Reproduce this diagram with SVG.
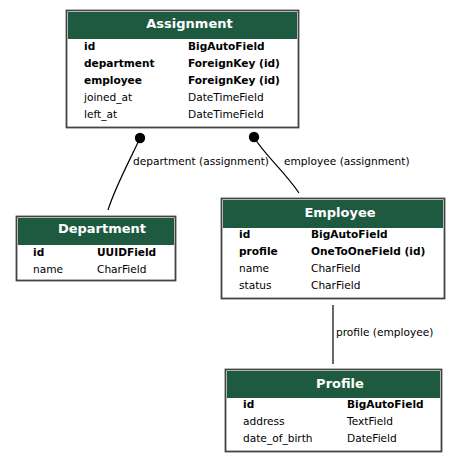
<svg xmlns="http://www.w3.org/2000/svg" width="461" height="463" viewBox="0 0 461 463">
<style>
.box{fill:#fff;stroke:#444;stroke-width:1.8}
.hdr{fill:#1d5a40}
.title{font-family:"DejaVu Sans",sans-serif;font-size:13px;font-weight:bold;fill:#fff;text-anchor:middle}
.f{font-family:"DejaVu Sans",sans-serif;font-size:10.6px;fill:#000}
.b{font-weight:bold}
.edge{fill:none;stroke:#000;stroke-width:1.2}
.lbl{font-family:"DejaVu Sans",sans-serif;font-size:10.6px;fill:#000}
</style>
<rect width="461" height="463" fill="#fff"/>
<g id="connectors">
<path class="edge" d="M140,138 C131,158 116,185 108,210"/>
<circle cx="140" cy="138" r="5.2" fill="#000"/>
<text class="lbl" x="133" y="165">department (assignment)</text>
<path class="edge" d="M254,137 C262,152 285,172 299,193"/>
<circle cx="254" cy="137" r="5.2" fill="#000"/>
<text class="lbl" x="284" y="165">employee (assignment)</text>
<path class="edge" d="M333,305 L333,364"/>
<text class="lbl" x="336" y="336">profile (employee)</text>
</g>
<g id="Assignment">
<rect class="box" x="66.5" y="10.5" width="232" height="117"/>
<rect class="hdr" x="68" y="12" width="229" height="27"/>
<text class="title" x="189.5" y="28">Assignment</text>
<text class="f b" x="84" y="50">id</text><text class="f b" x="188" y="50">BigAutoField</text>
<text class="f b" x="84" y="67">department</text><text class="f b" x="188" y="67">ForeignKey (id)</text>
<text class="f b" x="84" y="84">employee</text><text class="f b" x="188" y="84">ForeignKey (id)</text>
<text class="f" x="84" y="101">joined_at</text><text class="f" x="188" y="101">DateTimeField</text>
<text class="f" x="84" y="118">left_at</text><text class="f" x="188" y="118">DateTimeField</text>
</g>
<g id="Department">
<rect class="box" x="16.5" y="216.5" width="159" height="64"/>
<rect class="hdr" x="18" y="218" width="156" height="27"/>
<text class="title" x="102" y="233">Department</text>
<text class="f b" x="33" y="256">id</text><text class="f b" x="97" y="256">UUIDField</text>
<text class="f" x="33" y="273">name</text><text class="f" x="97" y="273">CharField</text>
</g>
<g id="Employee">
<rect class="box" x="221.5" y="198.5" width="223" height="100"/>
<rect class="hdr" x="223" y="200" width="220" height="28"/>
<text class="title" x="340" y="217">Employee</text>
<text class="f b" x="239" y="238">id</text><text class="f b" x="311" y="238">BigAutoField</text>
<text class="f b" x="239" y="255">profile</text><text class="f b" x="311" y="255">OneToOneField (id)</text>
<text class="f" x="239" y="272">name</text><text class="f" x="311" y="272">CharField</text>
<text class="f" x="239" y="289">status</text><text class="f" x="311" y="289">CharField</text>
</g>
<g id="Profile">
<rect class="box" x="225.5" y="369.5" width="216" height="82"/>
<rect class="hdr" x="227" y="371" width="213" height="27"/>
<text class="title" x="340" y="388">Profile</text>
<text class="f b" x="243" y="408">id</text><text class="f b" x="347" y="408">BigAutoField</text>
<text class="f" x="243" y="425">address</text><text class="f" x="347" y="425">TextField</text>
<text class="f" x="243" y="442">date_of_birth</text><text class="f" x="347" y="442">DateField</text>
</g>
</svg>
